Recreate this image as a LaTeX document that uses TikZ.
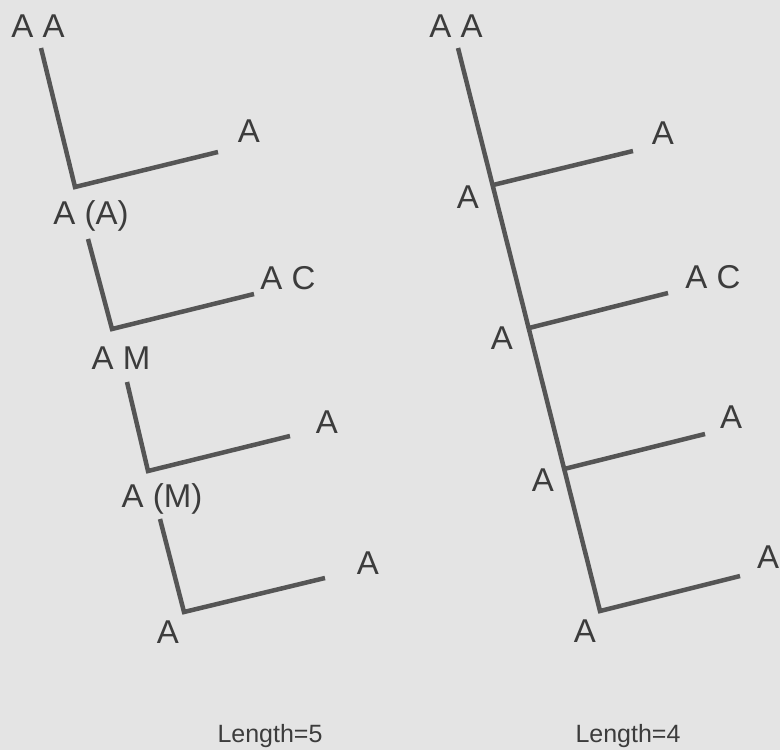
\documentclass[tikz,border=0pt]{standalone}
\usepackage{fontspec}
\setmainfont{Liberation Sans}
\definecolor{bg}{HTML}{E4E4E4}
\definecolor{ln}{HTML}{555555}
\definecolor{tx}{HTML}{3C3C3C}
\begin{document}
\begin{tikzpicture}[x=1pt,y=-1pt,
  bond/.style={draw=ln,line width=4.5pt,line join=miter},
  lbl/.style={inner sep=0pt,text=tx,font=\fontsize{33}{38}\selectfont},
  caption/.style={inner sep=0pt,text=tx,font=\fontsize{25}{30}\selectfont}]
\fill[bg] (0,0) rectangle (780,750);
\useasboundingbox (0,0) rectangle (780,750);
% left diagram
\coordinate (l1t) at (41,48);  \coordinate (l1c) at (75,187);  \coordinate (l1e) at (218,152);
\coordinate (l2t) at (88,239); \coordinate (l2c) at (112,329); \coordinate (l2e) at (254,294);
\coordinate (l3t) at (127,382);\coordinate (l3c) at (148,471); \coordinate (l3e) at (290,436);
\coordinate (l4t) at (160,519);\coordinate (l4c) at (184,612); \coordinate (l4e) at (325,578);
\draw[bond] (l1t) -- (l1c) -- (l1e);
\draw[bond] (l2t) -- (l2c) -- (l2e);
\draw[bond] (l3t) -- (l3c) -- (l3e);
\draw[bond] (l4t) -- (l4c) -- (l4e);
\node[lbl] (la1) at (38,26) {A A};
\node[lbl] (la2) at (249,131) {A};
\node[lbl] (la3) at (91,216) {A (A)};
\node[lbl] (la4) at (288,278) {A C};
\node[lbl] (la5) at (121,358) {A M};
\node[lbl] (la6) at (327,422) {A};
\node[lbl] (la7) at (162,499) {A (M)};
\node[lbl] (la8) at (368,563) {A};
\node[lbl] (la9) at (168,632) {A};
\node[caption] (len5) at (270,736) {Length=5};
% right diagram
\coordinate (rt) at (458,48);
\coordinate (rj1) at (493,185); \coordinate (re1) at (633,151);
\coordinate (rj2) at (529,328); \coordinate (re2) at (668,293);
\coordinate (rj3) at (564,469); \coordinate (re3) at (705,434);
\coordinate (rb) at (600,611);  \coordinate (re4) at (740,576);
\draw[bond] (rt) -- (rb) -- (re4);
\draw[bond] (rj1) -- (re1);
\draw[bond] (rj2) -- (re2);
\draw[bond] (rj3) -- (re3);
\node[lbl] (ra1) at (456,26) {A A};
\node[lbl] (ra2) at (663,133) {A};
\node[lbl] (ra3) at (468,197) {A};
\node[lbl] (ra4) at (713,277) {A C};
\node[lbl] (ra5) at (502,338) {A};
\node[lbl] (ra6) at (731,417) {A};
\node[lbl] (ra7) at (543,480) {A};
\node[lbl] (ra8) at (768,557) {A};
\node[lbl] (ra9) at (585,631) {A};
\node[caption] (len4) at (628,736) {Length=4};
\end{tikzpicture}
\end{document}
